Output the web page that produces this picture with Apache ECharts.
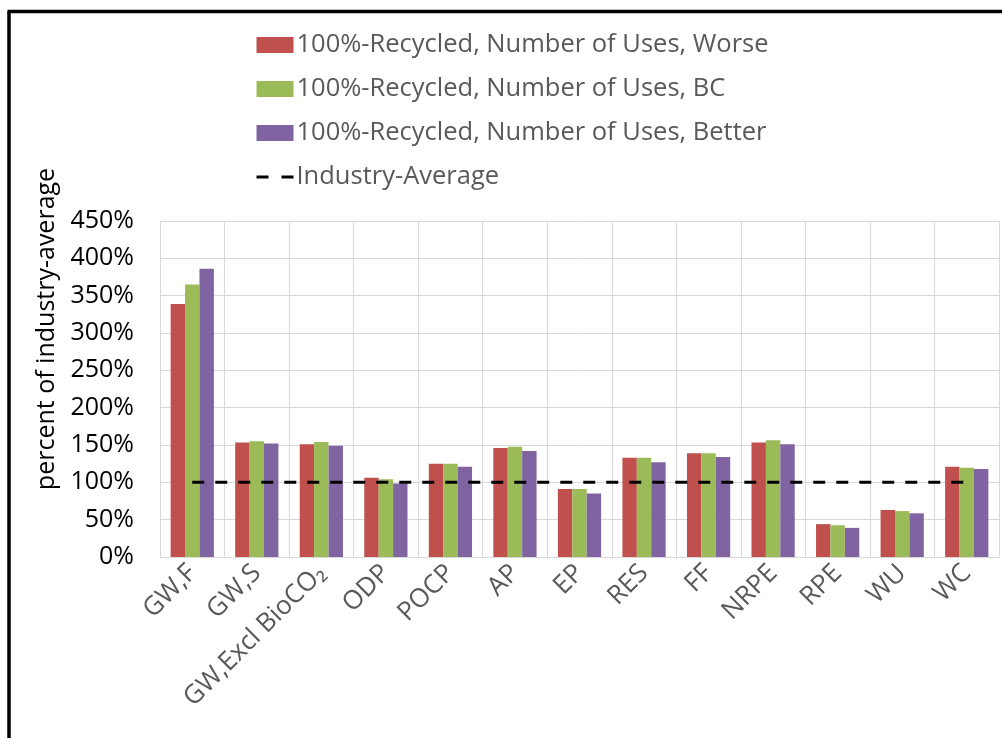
<!DOCTYPE html>
<html>
<head>
<meta charset="utf-8">
<script src="https://cdn.jsdelivr.net/npm/echarts@6/dist/echarts.min.js"></script>
<style>html,body{margin:0;padding:0;background:#fff;}#c{width:1002px;height:738px;}</style>
</head>
<body>
<div id="c"></div>
<script>
const categories = ['GW,F', 'GW,S', 'GW,Excl BioCO\u2082', 'ODP', 'POCP', 'AP', 'EP', 'RES', 'FF', 'NRPE', 'RPE', 'WU', 'WC'];
const worse  = [339, 153.5, 151, 106, 125, 146, 91, 133, 139, 153.5, 44, 63, 121];
const bc     = [365, 155, 154, 104, 125, 147.5, 91, 133, 139, 156.5, 42.5, 61.5, 119.5];
const better = [386, 152, 149, 98.5, 121, 142, 85, 127, 134, 151, 39, 58.5, 118];
const industryAverage = [100, 100, 100, 100, 100, 100, 100, 100, 100, 100, 100, 100, 100];
const seriesNames = ['100%-Recycled, Number of Uses, Worse', '100%-Recycled, Number of Uses, BC', '100%-Recycled, Number of Uses, Better', 'Industry-Average'];
const yTitle = 'percent of industry-average';

const FONT = 'Open Sans';
const chart = echarts.init(document.getElementById('c'), null, {renderer: 'canvas'});
chart.setOption({
  animation: false,
  backgroundColor: '#fff',
  textStyle: {fontFamily: FONT},
  grid: {left: 160, right: 3, top: 221, bottom: 181, containLabel: false},
  legend: {
    orient: 'vertical', left: 250, top: 27,
    itemWidth: 37, itemHeight: 16, itemGap: 18,
    textStyle: {fontFamily: FONT, fontSize: 25.5, color: '#595959', lineHeight: 26, padding: [0, 0, 0, -2]},
    data: [
      {name: seriesNames[0], icon: 'rect'},
      {name: seriesNames[1], icon: 'rect'},
      {name: seriesNames[2], icon: 'rect'},
      {name: seriesNames[3], itemStyle: {opacity: 0}, lineStyle: {color: '#000', width: 3, type: [12, 13], opacity: 1}}
    ]
  },
  xAxis: {
    type: 'category', data: categories, boundaryGap: true,
    axisLine: {show: true, lineStyle: {color: '#d9d9d9', width: 1}},
    axisTick: {show: false},
    splitLine: {show: true, lineStyle: {color: '#d9d9d9', width: 1}},
    axisLabel: {rotate: 45, interval: 0, margin: 12, fontFamily: FONT, fontSize: 26, color: '#595959'}
  },
  yAxis: {
    type: 'value', min: 0, max: 450, interval: 50,
    axisLine: {show: true, lineStyle: {color: '#d9d9d9'}},
    axisTick: {show: false},
    splitLine: {show: true, lineStyle: {color: '#d9d9d9', width: 1}},
    axisLabel: {formatter: '{value}%', margin: 26, fontFamily: FONT, fontSize: 25, color: '#000'}
  },
  graphic: [
    {type: 'line', shape: {x1: 9, y1: 11.5, x2: 9, y2: 738}, style: {stroke: '#000', lineWidth: 3.5}},
    {type: 'line', shape: {x1: 7.5, y1: 11.5, x2: 1002, y2: 11.5}, style: {stroke: '#000', lineWidth: 3.5}},
    {type: 'text', x: 47, y: 329, rotation: Math.PI / 2,
     style: {text: yTitle, fontFamily: FONT, fontSize: 25, fill: '#000', align: 'center', verticalAlign: 'middle'}}
  ],
  series: [
    {name: seriesNames[0], type: 'bar', data: worse, barGap: '0%', barCategoryGap: '33%', itemStyle: {color: '#C0504D'}},
    {name: seriesNames[1], type: 'bar', data: bc, barGap: '0%', barCategoryGap: '33%', itemStyle: {color: '#9BBB59'}},
    {name: seriesNames[2], type: 'bar', data: better, barGap: '0%', barCategoryGap: '33%', itemStyle: {color: '#8064A2'}},
    {name: seriesNames[3], type: 'line', data: industryAverage, symbol: 'none', z: 5,
     lineStyle: {color: '#000', width: 3, type: [12, 11]}, itemStyle: {color: '#000'}}
  ]
});
</script>
</body>
</html>
